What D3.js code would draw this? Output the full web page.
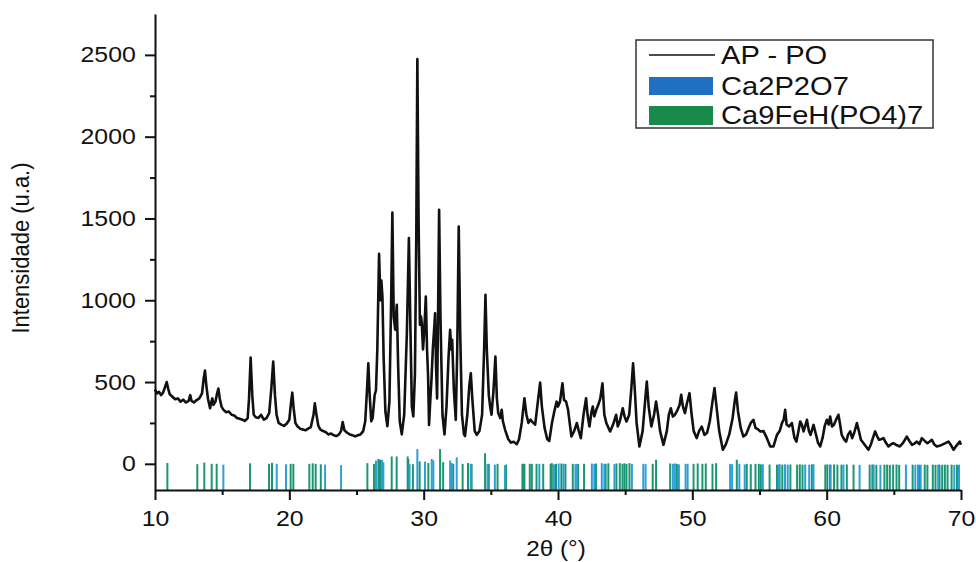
<!DOCTYPE html>
<html>
<head>
<meta charset="utf-8">
<script src="https://cdn.jsdelivr.net/npm/d3@7"></script>
<style>
  body { margin: 0; background: #fff; }
  text { font-family: "Liberation Sans", Arial, sans-serif; fill: #111; }
</style>
</head>
<body>
<svg id="chart" width="976" height="562"></svg>
<script>
// measured pattern AP - PO : [2theta, intensity]
var pattern = [
  [10.0,455],[10.15,430],[10.3,440],[10.45,420],[10.6,435],[10.75,470],[10.87,500],[10.98,460],
  [11.1,425],[11.3,410],[11.5,395],[11.7,400],[11.9,380],[12.1,392],[12.3,375],[12.5,385],
  [12.62,420],[12.72,385],[12.9,375],[13.1,390],[13.3,400],[13.5,430],[13.62,520],[13.72,570],
  [13.82,480],[13.95,395],[14.1,340],[14.2,380],[14.27,400],[14.35,360],[14.5,380],[14.62,430],
  [14.72,460],[14.82,400],[14.95,350],[15.1,330],[15.3,315],[15.5,320],[15.7,300],[15.9,295],
  [16.1,280],[16.3,275],[16.5,270],[16.7,262],[16.9,280],[17.0,400],[17.12,650],[17.24,420],
  [17.35,300],[17.5,285],[17.7,280],[17.9,300],[18.1,270],[18.3,280],[18.5,310],[18.65,450],
  [18.8,625],[18.93,420],[19.05,300],[19.2,250],[19.4,240],[19.6,232],[19.8,245],[20.0,270],
  [20.12,370],[20.22,435],[20.32,340],[20.45,250],[20.6,230],[20.8,215],[21.0,210],[21.2,205],
  [21.4,215],[21.6,225],[21.8,300],[21.9,370],[22.0,310],[22.15,235],[22.3,210],[22.5,200],
  [22.7,195],[22.9,180],[23.1,185],[23.3,175],[23.5,170],[23.7,180],[23.85,200],[23.97,255],
  [24.1,205],[24.3,190],[24.5,180],[24.7,175],[24.9,168],[25.1,175],[25.3,180],[25.5,200],
  [25.65,260],[25.78,450],[25.88,615],[25.98,420],[26.1,260],[26.2,280],[26.35,420],[26.45,450],
  [26.55,700],[26.68,1284],[26.78,1000],[26.85,1120],[26.93,1023],[27.02,650],[27.15,320],[27.3,230],
  [27.45,380],[27.58,1000],[27.67,1536],[27.77,900],[27.88,820],[28.0,972],[28.1,600],[28.22,260],
  [28.37,180],[28.55,300],[28.75,800],[28.9,1380],[29.02,800],[29.12,350],[29.23,290],[29.35,550],
  [29.45,1400],[29.53,2474],[29.62,1500],[29.72,850],[29.8,900],[29.86,860],[29.95,700],[30.05,820],
  [30.16,1023],[30.25,700],[30.33,534],[30.4,238],[30.5,400],[30.58,513],[30.68,700],[30.8,850],
  [30.85,921],[30.92,600],[31.0,400],[31.07,900],[31.15,1553],[31.25,900],[31.4,300],[31.55,180],
  [31.7,350],[31.85,650],[31.97,819],[32.05,700],[32.12,758],[32.25,450],[32.39,269],[32.5,700],
  [32.61,1451],[32.72,800],[32.85,300],[33.0,180],[33.08,170],[33.25,300],[33.4,480],[33.51,554],
  [33.62,400],[33.8,200],[33.95,177],[34.15,200],[34.35,300],[34.5,700],[34.6,1033],[34.7,700],
  [34.85,420],[34.95,350],[35.05,300],[35.2,450],[35.34,656],[35.45,400],[35.55,310],[35.7,280],
  [35.81,330],[35.9,260],[36.06,208],[36.3,150],[36.5,130],[36.7,135],[36.93,120],[37.1,150],
  [37.3,250],[37.5,401],[37.65,300],[37.8,250],[37.95,270],[38.1,255],[38.3,240],[38.5,380],
  [38.67,497],[38.8,350],[39.0,220],[39.2,150],[39.35,140],[39.55,250],[39.75,330],[39.9,380],
  [40.0,350],[40.15,380],[40.33,493],[40.45,390],[40.6,381],[40.75,330],[40.9,230],[41.0,167],
  [41.2,200],[41.4,249],[41.55,200],[41.7,157],[41.9,300],[42.09,401],[42.2,300],[42.34,228],
  [42.5,320],[42.59,350],[42.7,290],[42.85,330],[43.0,361],[43.15,400],[43.31,493],[43.45,300],
  [43.6,249],[43.88,198],[44.1,240],[44.33,300],[44.45,228],[44.6,260],[44.82,340],[44.95,290],
  [45.1,259],[45.3,300],[45.45,450],[45.59,615],[45.72,450],[45.85,250],[46.06,106],[46.3,200],
  [46.45,350],[46.61,503],[46.75,350],[46.95,228],[47.15,300],[47.3,381],[47.45,300],[47.6,200],
  [47.85,116],[48.1,200],[48.25,300],[48.4,340],[48.55,289],[48.7,300],[48.9,330],[49.05,360],
  [49.17,422],[49.3,350],[49.45,310],[49.6,370],[49.79,432],[49.95,300],[50.1,200],[50.33,157],
  [50.5,200],[50.7,228],[50.9,177],[51.1,190],[51.3,260],[51.5,380],[51.65,463],[51.8,350],
  [52.0,200],[52.27,86],[52.5,120],[52.75,180],[53.0,280],[53.15,380],[53.26,436],[53.4,320],
  [53.6,220],[53.8,167],[54.0,180],[54.2,220],[54.35,250],[54.55,269],[54.7,220],[54.9,210],
  [55.05,198],[55.3,200],[55.55,157],[55.8,106],[56.04,106],[56.3,177],[56.5,200],[56.67,249],
  [56.8,270],[56.91,330],[57.02,240],[57.2,228],[57.41,249],[57.6,160],[57.75,136],[57.9,200],
  [58.03,259],[58.15,240],[58.28,198],[58.4,230],[58.53,269],[58.68,200],[58.8,177],[59.02,238],
  [59.2,180],[59.35,130],[59.52,106],[59.7,160],[59.85,230],[60.01,269],[60.15,240],[60.26,289],
  [60.4,228],[60.55,240],[60.7,270],[60.88,300],[61.0,240],[61.12,177],[61.3,150],[61.45,136],
  [61.6,180],[61.75,198],[61.9,157],[62.05,190],[62.25,249],[62.4,200],[62.55,147],[62.8,120],
  [63.11,86],[63.3,120],[63.45,160],[63.61,198],[63.75,170],[63.9,147],[64.05,150],[64.23,157],
  [64.4,130],[64.6,106],[64.8,120],[64.97,126],[65.2,115],[65.45,106],[65.7,130],[65.97,167],
  [66.15,140],[66.35,116],[66.55,125],[66.71,136],[66.9,120],[67.08,157],[67.3,140],[67.5,126],
  [67.65,135],[67.83,147],[68.0,120],[68.2,106],[68.4,110],[68.57,116],[68.8,125],[69.07,136],
  [69.25,115],[69.45,86],[69.65,110],[69.9,136],[70.0,116]
];

// reference sticks : [2theta, top value]
var ca2p2o7 = [
  [15.09,-5],[19.06,0],[19.75,-3],[22.66,-5],[23.85,-8],[26.45,20],[26.9,25],[27.0,10],
  [28.95,0],[29.53,90],[30.1,14],[30.6,30],[30.72,22],[31.97,20],[32.08,5],[32.46,40],
  [33.5,0],[34.75,0],[35.3,-5],[36.05,-8],[38.61,0],[39.7,-3],[40.05,2],[40.4,0],
  [41.3,-2],[41.42,0],[42.52,2],[42.7,0],[43.26,4],[43.45,0],[44.2,-2],[45.5,0],
  [46.35,0],[46.52,-2],[48.55,0],[48.7,2],[49.0,-3],[49.5,0],[49.65,0],[52.81,0],
  [52.96,-2],[53.5,0],[53.9,-4],[55.25,-3],[56.45,-5],[56.9,-3],[57.1,-5],[58.4,-4],
  [58.7,-5],[59.02,-2],[60.3,-5],[61.25,-5],[62.45,-6],[63.5,-5],[64.0,-6],[65.9,-5],
  [66.6,-6],[66.8,-5],[67.0,-6],[68.3,-5],[69.5,-7],[69.85,-5]
];
var ca9feh = [
  [10.92,5],[13.15,-2],[13.67,8],[14.22,0],[14.59,0],[17.07,3],[18.49,0],[18.71,6],
  [20.1,0],[20.3,0],[21.49,0],[21.74,3],[21.96,0],[22.34,-3],[25.81,4],[26.3,0],
  [26.63,30],[26.75,25],[27.62,45],[27.99,45],[28.81,45],[28.86,30],[29.2,-2],[29.7,15],
  [30.35,5],[31.22,90],[31.45,10],[32.2,0],[32.9,0],[33.3,5],[33.57,0],[34.57,65],
  [34.85,0],[35.5,0],[36.13,-5],[37.35,0],[37.42,0],[37.5,0],[37.9,0],[38.05,0],
  [38.4,0],[38.9,0],[39.45,0],[39.54,4],[39.85,0],[40.25,2],[40.55,0],[41.1,0],
  [41.5,-2],[41.94,0],[42.83,2],[43.55,0],[43.75,3],[44.35,2],[44.6,4],[44.8,0],
  [44.95,3],[45.1,0],[45.32,4],[47.05,0],[47.3,25],[48.35,2],[48.85,0],[50.09,0],
  [50.4,2],[50.75,0],[51.0,2],[51.5,0],[51.77,4],[53.31,25],[54.05,0],[54.35,-2],
  [54.7,0],[54.95,0],[55.1,-3],[55.75,-4],[56.3,-5],[56.5,-3],[56.7,-5],[57.3,-4],
  [57.8,-5],[58.0,-3],[58.2,-5],[58.9,-4],[59.9,-5],[60.05,-3],[60.25,-5],[60.55,-4],
  [60.8,-5],[61.1,-5],[61.5,-4],[62.0,-5],[63.2,-5],[63.4,-4],[63.7,-6],[64.3,-5],
  [64.5,-5],[64.7,-6],[64.95,-5],[65.2,-4],[65.4,-6],[66.4,-5],[66.9,-6],[67.3,-5],
  [67.5,-6],[67.9,-5],[68.1,-6],[68.4,-5],[68.6,-6],[68.8,-5],[69.0,-6],[69.3,-5],[69.7,-6]
];

var xTicks = [10, 20, 30, 40, 50, 60, 70];
var xMinor = [15, 25, 35, 45, 55, 65];
var yTicks = [0, 500, 1000, 1500, 2000, 2500];
var yMinor = [250, 750, 1250, 1750, 2250];
var legendItems = ["AP - PO", "Ca2P2O7", "Ca9FeH(PO4)7"];

var svg = d3.select("#chart");
var x = d3.scaleLinear().domain([10, 70]).range([155, 961]);
var y = d3.scaleLinear().domain([-160, 2750]).range([490, 14]);

// reference sticks
function drawSticks(data, color) {
  svg.append("g").selectAll("line")
    .data(data)
    .enter().append("line")
    .attr("x1", function (d) { return x(d[0]); })
    .attr("x2", function (d) { return x(d[0]); })
    .attr("y1", y(-160))
    .attr("y2", function (d) { return y(d[1]); })
    .attr("stroke", color)
    .attr("stroke-width", 2);
}
drawSticks(ca9feh, "#1b9673");
drawSticks(ca2p2o7, "#2f9fd8");

// measured pattern
var line = d3.line()
  .x(function (d) { return x(d[0]); })
  .y(function (d) { return y(d[1]); });

svg.append("path")
  .datum(pattern)
  .attr("d", line)
  .attr("fill", "none")
  .attr("stroke", "#111")
  .attr("stroke-width", 2.6)
  .attr("stroke-linejoin", "round");

// axes
var xAxis = svg.append("g")
  .attr("transform", "translate(0,490)")
  .call(d3.axisBottom(x).tickValues(xTicks).tickSize(10).tickSizeOuter(0).tickPadding(10).tickFormat(d3.format("d")));
svg.append("g")
  .attr("transform", "translate(0,490)")
  .call(d3.axisBottom(x).tickValues(xMinor).tickSize(5).tickFormat(""))
  .select(".domain").remove();

var yAxis = svg.append("g")
  .attr("transform", "translate(155,0)")
  .call(d3.axisLeft(y).tickValues(yTicks).tickSize(10).tickSizeOuter(0).tickPadding(7).tickFormat(d3.format("d")));
svg.append("g")
  .attr("transform", "translate(155,0)")
  .call(d3.axisLeft(y).tickValues(yMinor).tickSize(5).tickFormat(""))
  .select(".domain").remove();

svg.selectAll(".domain, .tick line").attr("stroke", "#111").attr("stroke-width", 2);
xAxis.selectAll("text").attr("font-size", 22).attr("transform", "scale(1.13,1)");
yAxis.selectAll("text").attr("font-size", 22).attr("transform", "scale(1.13,1)");

// axis titles
svg.append("text")
  .attr("transform", "translate(29,248) rotate(-90) scale(1,1.12)")
  .attr("text-anchor", "middle")
  .attr("font-size", 22)
  .text("Intensidade (u.a.)");

svg.append("text")
  .attr("transform", "translate(556,556) scale(1.1,1)")
  .attr("text-anchor", "middle")
  .attr("font-size", 22)
  .text("2θ (°)");

// legend
var legend = svg.append("g");
legend.append("rect")
  .attr("x", 636).attr("y", 40).attr("width", 297).attr("height", 88)
  .attr("fill", "#fff").attr("stroke", "#333").attr("stroke-width", 1.5);
legend.append("line")
  .attr("x1", 649).attr("x2", 715).attr("y1", 55).attr("y2", 55)
  .attr("stroke", "#111").attr("stroke-width", 1.5);
legend.append("rect")
  .attr("x", 649).attr("y", 77).attr("width", 64).attr("height", 18).attr("fill", "#1f6fc2");
legend.append("rect")
  .attr("x", 649).attr("y", 106).attr("width", 64).attr("height", 19).attr("fill", "#1a8a4c");
legend.selectAll("text.item")
  .data(legendItems)
  .enter().append("text")
  .attr("class", "item")
  .attr("transform", function (d, i) { return "translate(721," + [64, 95, 124][i] + ") scale(1.12,1)"; })
  .attr("font-size", 26)
  .text(function (d) { return d; });
</script>
</body>
</html>
